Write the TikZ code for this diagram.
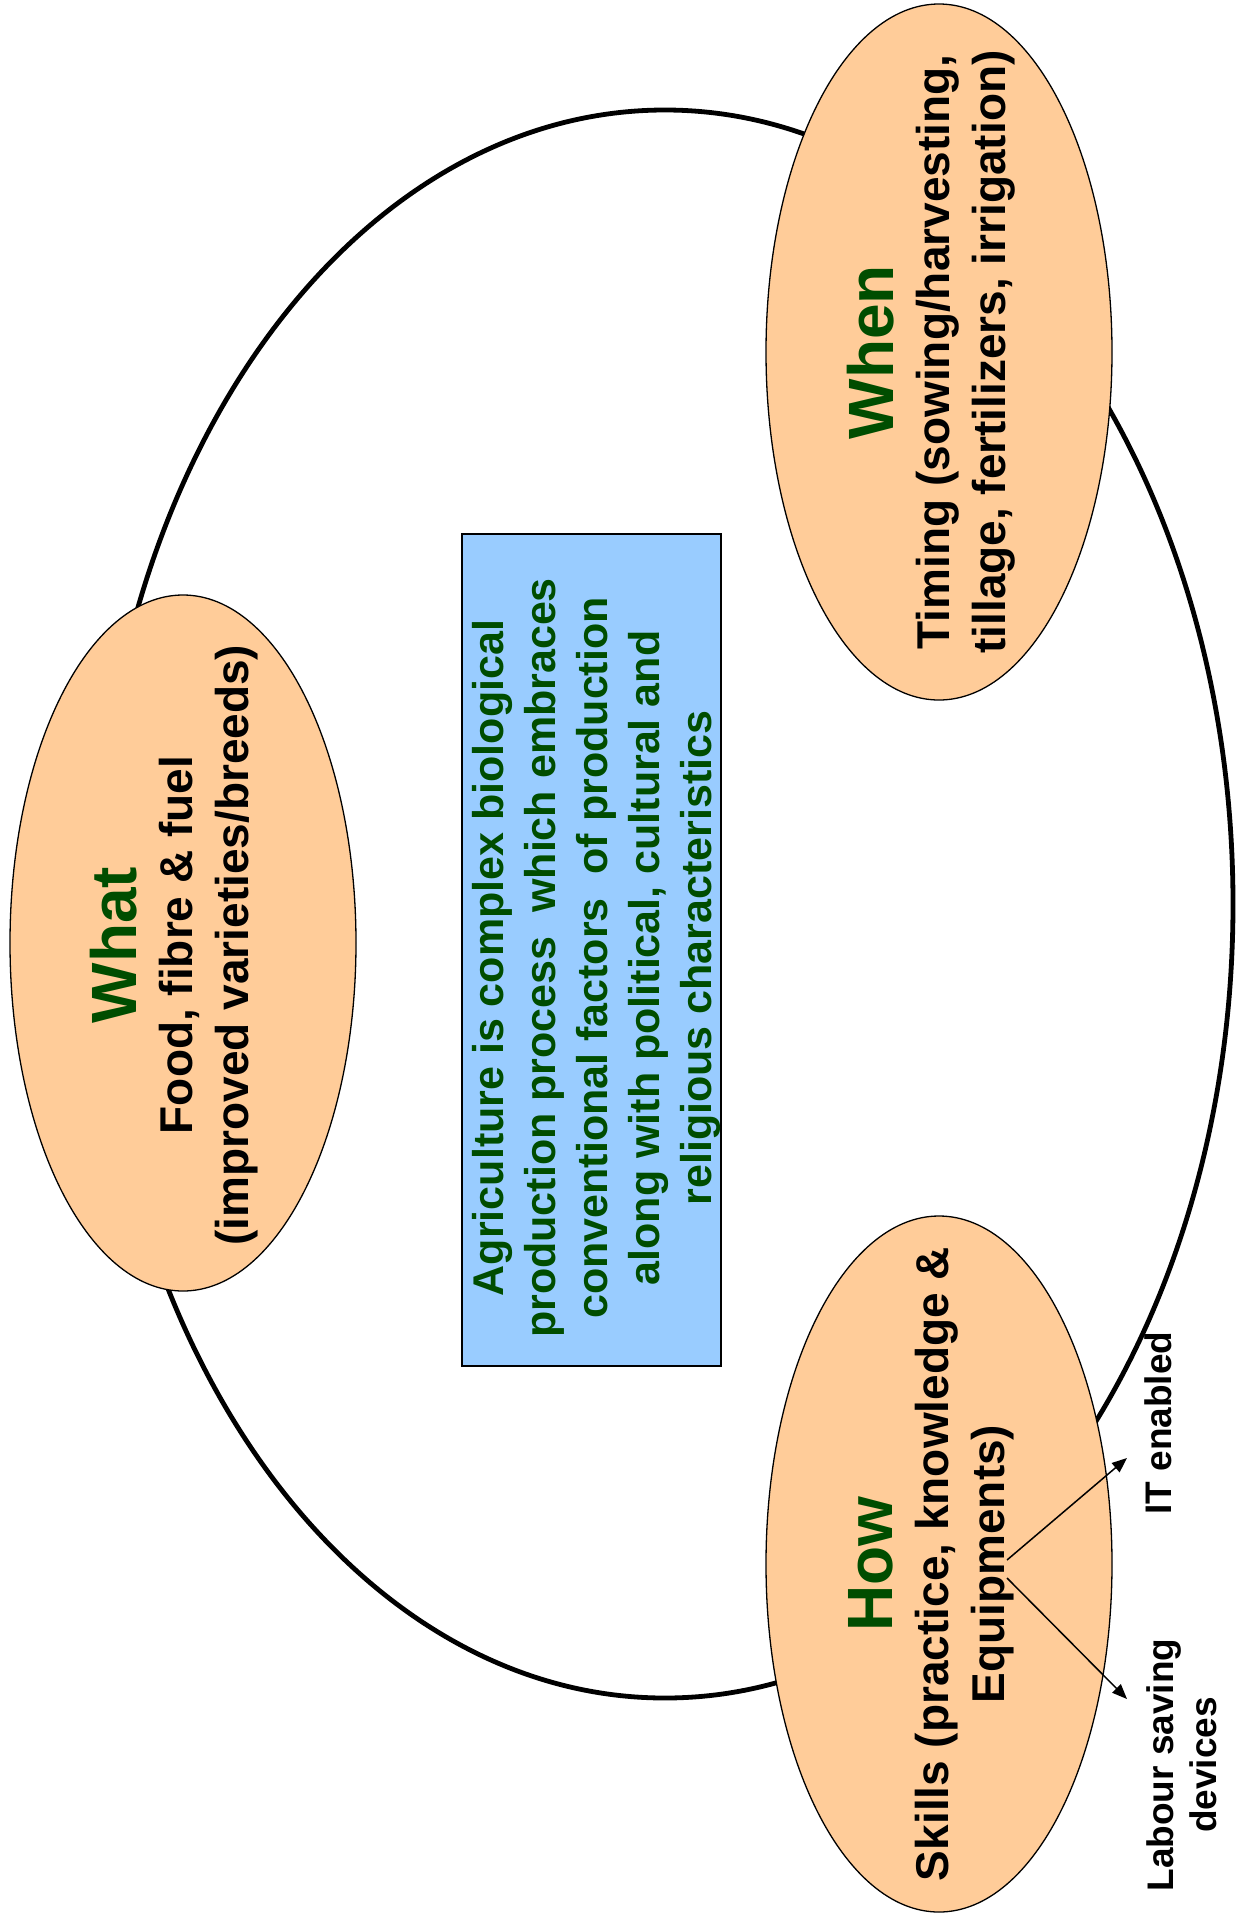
\documentclass[tikz,border=0pt]{standalone}
\usepackage{fontspec}
\setmainfont{Liberation Sans}
\usetikzlibrary{arrows.meta}
\definecolor{peach}{RGB}{255,204,153}
\definecolor{skyblue}{RGB}{153,204,255}
\definecolor{leafgreen}{RGB}{0,77,0}
\tikzset{
  bubble/.style={draw,fill=peach,line width=1.3pt},
  bubbletext/.style={rotate=90,align=center,inner sep=0pt,font=\bfseries\fontsize{46}{56}\selectfont},
  boxtext/.style={rotate=90,align=center,inner sep=0pt,text=leafgreen,font=\bfseries\fontsize{43}{52}\selectfont},
  sidetext/.style={rotate=90,align=center,inner sep=0pt,font=\bfseries\fontsize{37}{43}\selectfont},
  pointer/.style={-{Triangle[length=15pt,width=12pt]},line width=1.5pt}
}
\newcommand{\headword}[1]{\textcolor{leafgreen}{\fontsize{64}{64}\selectfont #1}}

\begin{document}
\begin{tikzpicture}[x=1pt,y=-1pt]
\useasboundingbox (0,0) rectangle (1246,1915);
\draw[line width=4.8pt] (665,904) ellipse (568 and 794);
\draw[bubble] (183,943) ellipse (173 and 348);
\draw[bubble] (939,352) ellipse (173 and 348);
\draw[bubble] (939,1564) ellipse (173 and 348);
\draw[fill=skyblue,line width=1.3pt] (462,534) rectangle (721,1366);
\node[bubbletext] (what) at (174,945) {\headword{What}\\Food, fibre \& fuel\\(improved varieties/breeds)};
\node[bubbletext] (when) at (931,352) {\headword{When}\\Timing (sowing/harvesting,\\tillage, fertilizers, irrigation)};
\node[bubbletext] (how) at (931,1564) {\headword{How}\\Skills (practice, knowledge \&\\Equipments)};
\node[boxtext] (agri) at (596,958) {Agriculture is complex biological\\production process\ \ which embraces\\conventional factors\ \ of production\\along with political, cultural and\\religious characteristics};
\node[sidetext] (it) at (1158,1423) {IT enabled};
\node[sidetext] (labour) at (1182,1765) {Labour saving\\devices};
\coordinate (itfoot) at (1007,1560);
\coordinate (labourfoot) at (1007,1578);
\coordinate (ittip) at (1127,1458);
\coordinate (labourtip) at (1127,1699);
\draw[pointer] (itfoot) -- (ittip);
\draw[pointer] (labourfoot) -- (labourtip);
\end{tikzpicture}
\end{document}
